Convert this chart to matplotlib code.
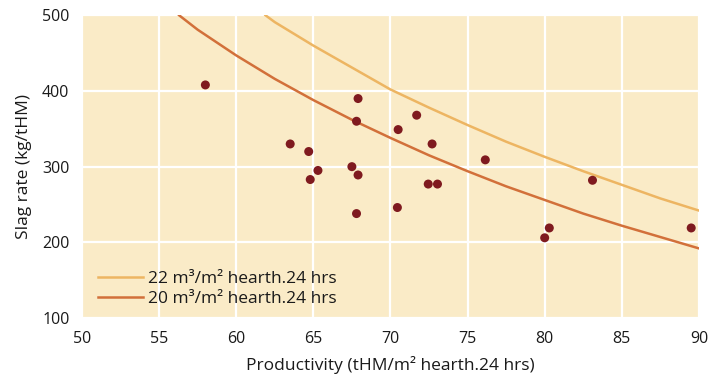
import matplotlib
matplotlib.use("Agg")
import matplotlib.pyplot as plt

plt.rcParams['font.family'] = ['Open Sans', 'DejaVu Sans']

# measured points
productivity = [58.0, 63.5, 64.7, 64.8, 65.3, 67.5, 67.9, 67.8, 67.9, 67.8,
                70.5, 70.45, 71.7, 72.7, 72.45, 73.05, 76.15, 80.0, 80.3, 83.1, 89.5]
slag_rate = [408, 330, 320, 283, 295, 300, 390, 360, 289, 238,
             349, 246, 368, 330, 277, 277, 309, 206, 219, 282, 219]

# 22 m3/m2 hearth.24 hrs line
x22 = [61.9, 62.5, 65, 67.5, 70, 72.5, 75, 77.5, 80, 82.5, 85, 87.5, 90]
y22 = [500, 491, 460, 431, 402, 378, 355, 333, 313, 294, 276, 258, 242]

# 20 m3/m2 hearth.24 hrs line
x20 = [56.3, 57.5, 60, 62.5, 65, 67.5, 70, 72.5, 75, 77.5, 80, 82.5, 85, 87.5, 90]
y20 = [500, 481, 447, 416, 388, 362, 338, 315, 294, 274, 256, 238, 222, 207, 192]

xticks = [50, 55, 60, 65, 70, 75, 80, 85, 90]
yticks = [100, 200, 300, 400, 500]

fig = plt.figure(figsize=(7.11, 3.78), dpi=100)
ax = fig.add_axes([0.1153, 0.1587, 0.8677, 0.8008])
ax.set_facecolor('#FAEBC7')

ax.plot(x22, y22, color='#EDB562', lw=1.8, label='22 m³/m² hearth.24 hrs', zorder=3)
ax.plot(x20, y20, color='#D2703A', lw=1.8, label='20 m³/m² hearth.24 hrs', zorder=3)
ax.scatter(productivity, slag_rate, s=42, color='#7F1A1F', edgecolors='none', zorder=4)

ax.set_xlim(50, 90)
ax.set_ylim(100, 500)
ax.set_xticks(xticks)
ax.set_yticks(yticks)
ax.grid(True, color='white', lw=1.6)
ax.set_axisbelow(True)
for s in ax.spines.values():
    s.set_visible(False)
ax.tick_params(length=0, labelsize=11.5, pad=9, colors='#1a1a1a')

ax.set_xlabel('Productivity (tHM/m² hearth.24 hrs)', fontsize=12.5, color='#1a1a1a', labelpad=7)
ax.set_ylabel('Slag rate (kg/tHM)', fontsize=12.5, color='#1a1a1a', labelpad=7)

leg = ax.legend(loc='lower left', frameon=False, fontsize=12.5, handlelength=2.6,
                handletextpad=0.3, labelspacing=0.2, bbox_to_anchor=(0.0, -0.015))
for t in leg.get_texts():
    t.set_color('#1a1a1a')

plt.savefig('out.png', dpi=100)
